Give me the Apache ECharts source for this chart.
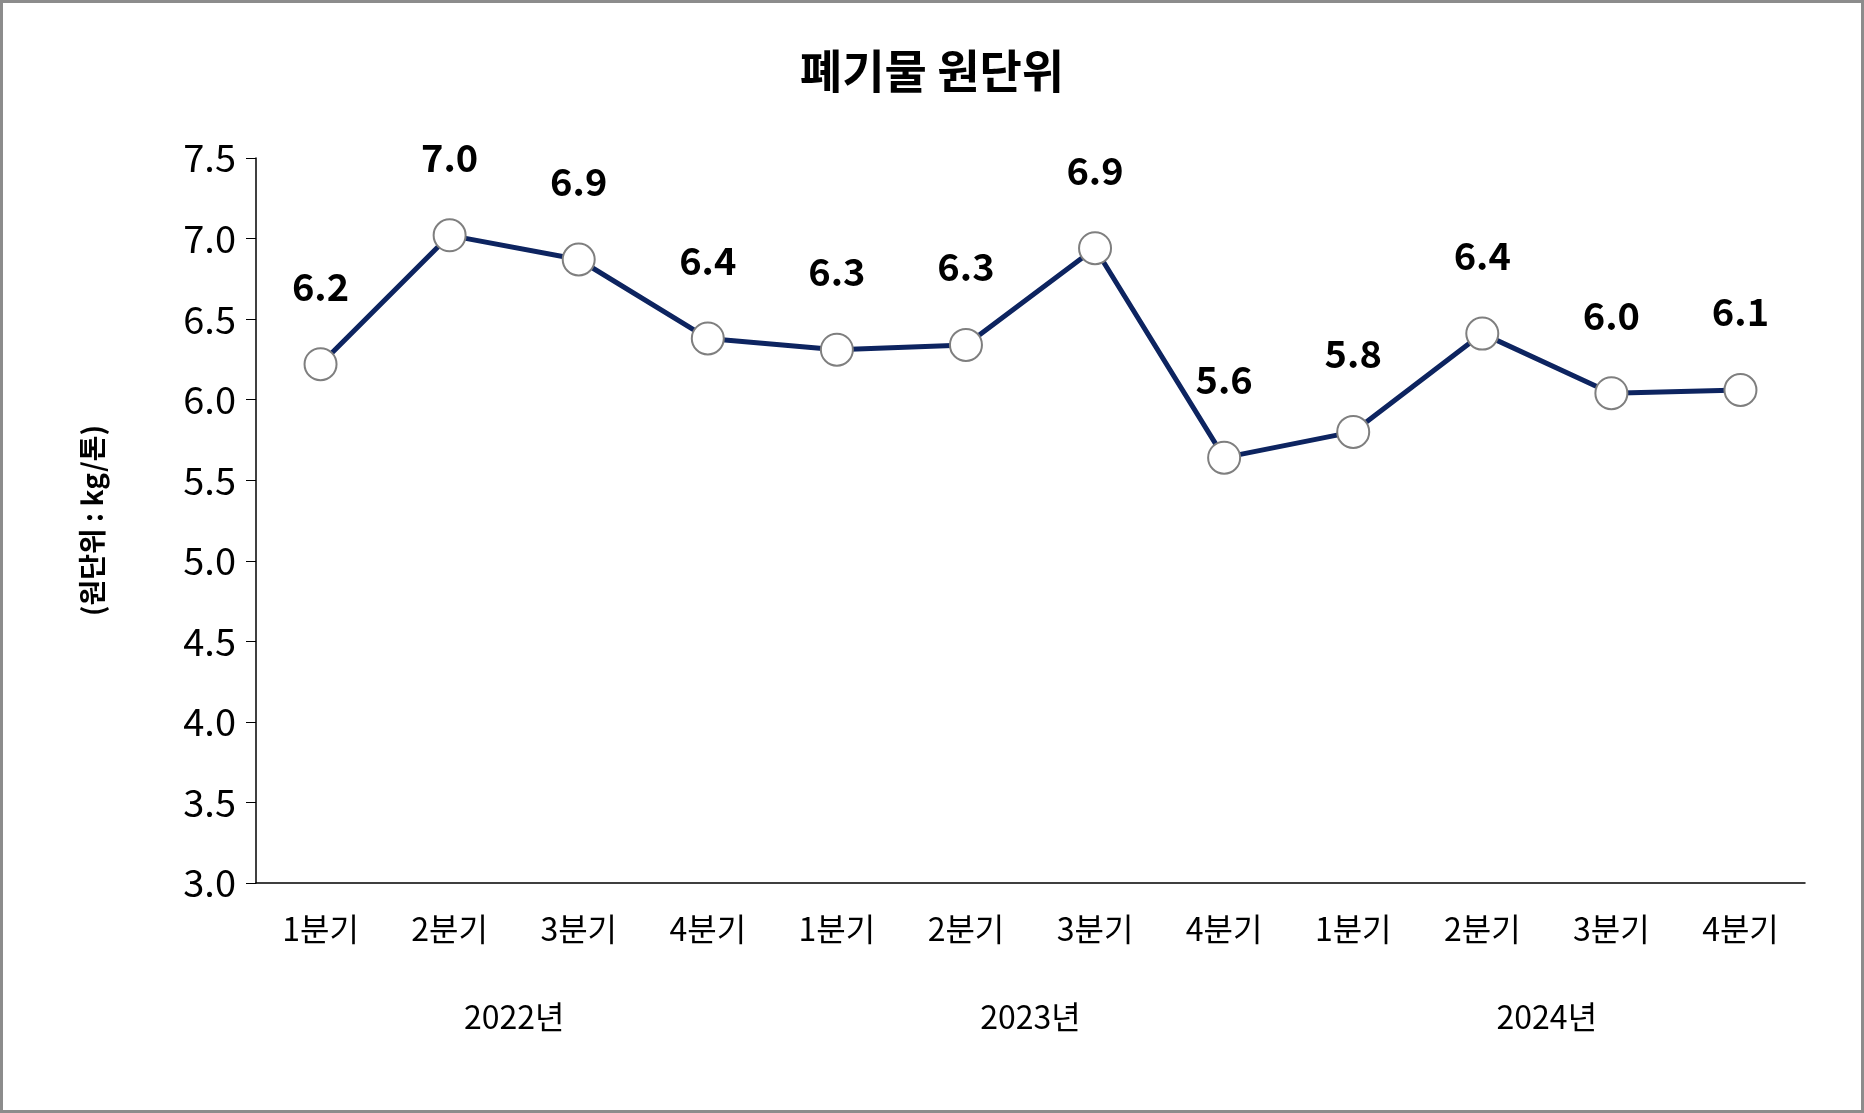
<!DOCTYPE html>
<html><head><meta charset="utf-8">
<script src="https://cdn.jsdelivr.net/npm/echarts@6/dist/echarts.min.js"></script>
<style>html,body{margin:0;padding:0;background:#fff}#c{width:1864px;height:1113px;box-sizing:border-box;border:3px solid #8c8c8c}</style>
</head><body><div id="c"></div>
<script>
const quarters = ['1분기','2분기','3분기','4분기','1분기','2분기','3분기','4분기','1분기','2분기','3분기','4분기'];
const years = ['2022년','2023년','2024년'];
const values = [6.22, 7.02, 6.87, 6.38, 6.31, 6.34, 6.94, 5.64, 5.80, 6.41, 6.04, 6.06];
const F = '"Noto Sans CJK KR", "Noto Sans", sans-serif';
const chart = echarts.init(document.getElementById('c'));
chart.setOption({
  animation:false,
  title:{text:'폐기물 원단위', left:'center', top:40, textStyle:{fontFamily:F, fontSize:46, fontWeight:'bold', color:'#000'}},
  grid:{left:253, right:56, top:155, bottom:227},
  xAxis:[
    {type:'category', data:quarters, boundaryGap:true,
     axisLine:{lineStyle:{color:'#000', width:1.5}},
     axisTick:{length:88, lineStyle:{color:'#000', width:1.5}},
     axisLabel:{fontFamily:F, fontSize:32, color:'#000', margin:30}},
    {type:'category', data:years, position:'bottom', boundaryGap:true,
     axisLine:{show:false},
     axisTick:{length:176, lineStyle:{color:'#000', width:1.5}},
     axisLabel:{fontFamily:F, fontSize:32, color:'#000', margin:118}}
  ],
  yAxis:{type:'value', min:3, max:7.5, interval:0.5,
    name:'(원단위 : kg/톤)', nameLocation:'middle', nameGap:150, nameRotate:90,
    nameTextStyle:{fontFamily:F, fontSize:28, fontWeight:'bold', color:'#000'},
    axisLine:{show:true, lineStyle:{color:'#000', width:1.5}},
    axisTick:{show:true, length:10, lineStyle:{color:'#000'}},
    splitLine:{show:false},
    axisLabel:{fontFamily:F, fontSize:38, color:'#000', margin:20, formatter:v=>v.toFixed(1)}},
  series:[{type:'line', data:values, xAxisIndex:0,
    lineStyle:{color:'#0d2460', width:5}, itemStyle:{color:'#fff', borderColor:'#7f7f7f', borderWidth:2},
    symbol:'circle', symbolSize:32,
    label:{show:true, position:'top', distance:42, fontFamily:F, fontSize:38, fontWeight:'bold', color:'#000', formatter:p=>p.value.toFixed(1)}}]
});
</script></body></html>
